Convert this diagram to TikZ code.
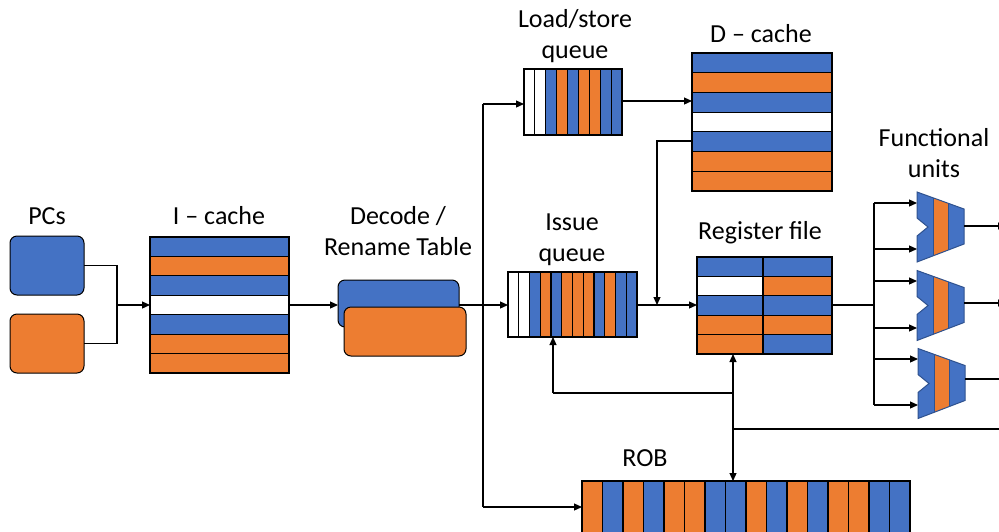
\documentclass[tikz,border=0pt]{standalone}
\usepackage{fontspec}
\setmainfont{Carlito}
\usetikzlibrary{arrows.meta}
\definecolor{cblue}{HTML}{4472C4}
\definecolor{corange}{HTML}{ED7D31}
\definecolor{fuedge}{HTML}{2F528F}
\tikzset{
  lbl/.style={font=\fontsize{26}{31}\selectfont, align=center, inner sep=0pt, anchor=base},
  wire/.style={line width=1.2pt},
  arr/.style={wire, -{Triangle[length=8pt,width=7pt]}},
  cell/.style={draw=black, line width=1.2pt},
  frame/.style={draw=black, line width=1.4pt, inner sep=0pt, outer sep=0pt},
  pcbox/.style={draw=black, line width=1pt, rounded corners=7pt, inner sep=0pt, outer sep=0pt},
}
\newcommand\fupath[2]{(#1,#2-35) -- (#1+47,#2-18) -- (#1+47,#2+17) -- (#1,#2+35) -- (#1,#2+9) -- (#1+11,#2) -- (#1,#2-9) -- cycle}
\newcommand\fudraw[2]{%
  \fill[cblue] \fupath{#1}{#2};
  \begin{scope}
    \clip \fupath{#1}{#2};
    \fill[corange] (#1+16,#2-40) rectangle (#1+31,#2+40);
    \draw[fuedge, line width=0.8pt] (#1+16,#2-40) -- (#1+16,#2+40) (#1+31,#2-40) -- (#1+31,#2+40);
  \end{scope}
  \draw[fuedge, line width=1pt, line join=miter] \fupath{#1}{#2};
}
\begin{document}
\begin{tikzpicture}[x=1pt,y=-1pt]
\useasboundingbox (0,0) rectangle (999,531);

% labels (anchor = baseline of last line)
\node[lbl] (lpc) at (47,224) {PCs};
\node[lbl] (lic) at (219,224) {I – cache};
\node[lbl] (ldec) at (398,255) {Decode /\\Rename Table};
\node[lbl] (llsq) at (575,58) {Load/store\\queue};
\node[lbl] (ldc) at (761,42) {D – cache};
\node[lbl] (liq) at (572,261) {Issue\\queue};
\node[lbl] (lrf) at (760,239) {Register file};
\node[lbl] (lfu) at (934,177) {Functional\\units};
\node[lbl] (lrob) at (645,466) {ROB};

% PCs
\node[pcbox, fill=cblue, minimum width=74pt, minimum height=59pt] (pc1) at (47,265.5) {};
\node[pcbox, fill=corange, minimum width=74pt, minimum height=59pt] (pc2) at (47,343.5) {};

% I-cache
\foreach \c [count=\i from 0] in {cblue,corange,cblue,white,cblue,corange,corange}
  \filldraw[cell, fill=\c] (150,237+\i*19.43) rectangle ++(139,19.43);
\node[frame, minimum width=139pt, minimum height=136pt] (ic) at (219.5,305) {};

% Decode / rename
\node[pcbox, fill=cblue, minimum width=121pt, minimum height=47pt] (dec1) at (398.5,303.5) {};
\node[pcbox, fill=corange, minimum width=122pt, minimum height=49pt] (dec2) at (405,331.5) {};

% Load/store queue
\foreach \c [count=\i from 0] in {white,white,cblue,corange,cblue,corange,corange,cblue,cblue}
  \filldraw[cell, fill=\c] (524+\i*10.89,69) rectangle ++(10.89,66);
\node[frame, minimum width=98pt, minimum height=66pt] (lsq) at (573,102) {};

% D-cache
\foreach \c [count=\i from 0] in {cblue,corange,cblue,white,cblue,corange,corange}
  \filldraw[cell, fill=\c] (692,53+\i*19.71) rectangle ++(140,19.71);
\node[frame, minimum width=140pt, minimum height=138pt] (dc) at (762,122) {};

% Issue queue
\foreach \c [count=\i from 0] in {white,white,cblue,corange,cblue,corange,corange,corange,cblue,corange,cblue,cblue}
  \filldraw[cell, fill=\c] (508+\i*10.75,272) rectangle ++(10.75,65);
\node[frame, minimum width=129pt, minimum height=65pt] (iq) at (572.5,304.5) {};

% Register file
\foreach \a/\b [count=\i from 0] in {cblue/cblue,white/corange,cblue/cblue,corange/corange,corange/cblue}{
  \filldraw[cell, fill=\a] (697,257+\i*19.4) rectangle ++(66,19.4);
  \filldraw[cell, fill=\b] (763,257+\i*19.4) rectangle ++(69,19.4);
}
\node[frame, minimum width=135pt, minimum height=97pt] (rf) at (764.5,305.5) {};

% ROB
\foreach \c [count=\i from 0] in {corange,cblue,corange,cblue,corange,corange,cblue,cblue,corange,cblue,corange,cblue,corange,corange,cblue,cblue}
  \filldraw[cell, fill=\c] (582+\i*20.5,481) rectangle ++(20.5,79);
\node[frame, minimum width=328pt, minimum height=79pt] (rob) at (746,520.5) {};

% Functional units
\fudraw{917}{227}
\fudraw{917}{305.5}
\fudraw{918}{383.5}
\coordinate (in1a) at (917,203);
\coordinate (in1b) at (917,249);
\coordinate (in2a) at (917,281);
\coordinate (in2b) at (917,328);
\coordinate (in3a) at (918,359);
\coordinate (in3b) at (918,405);
\coordinate (out1) at (964,226);
\coordinate (out2) at (964,303);
\coordinate (out3) at (965,379);
\coordinate (end1) at (1006,226);
\coordinate (end2) at (1006,303);
\coordinate (end3) at (1012,379);

% connectors: PCs -> I-cache
\coordinate (pcj) at (117,305);
\draw[wire] (pc1.east) -| (pcj);
\draw[wire] (pc2.east) -| (pcj);
\draw[arr] (pcj) -- (pcj -| ic.west);
% I-cache -> decode
\draw[arr] (ic.east |- pcj) -- (pcj -| dec1.west);
% decode -> issue queue, LSQ, ROB
\coordinate (bt) at (483,104);
\coordinate (bb) at (483,507);
\draw[arr] (pcj -| dec1.east) -- (pcj -| iq.west);
\draw[wire] (bt) -- (bb);
\draw[arr] (bt) -- (bt -| lsq.west);
\draw[arr] (bb) -- (bb -| rob.west);
% LSQ -> D-cache
\coordinate (lsqo) at (622,101);
\draw[arr] (lsqo) -- (lsqo -| dc.west);
% D-cache -> register path
\coordinate (dco) at (692,141);
\coordinate (mj) at (657,305);
\draw[arr] (dco) -| (mj);
% issue queue -> register file
\draw[arr] (iq.east |- mj) -- (mj -| rf.west);
% register file -> functional units
\coordinate (fj) at (874,305);
\draw[wire] (mj -| rf.east) -- (fj);
\draw[wire] (in1a -| fj) -- (in3b -| fj);
\foreach \p in {in1a,in1b,in2a,in2b,in3a,in3b}
  \draw[arr] (\p -| fj) -- (\p);
\draw[arr] (out1) -- (end1);
\draw[arr] (out2) -- (end2);
\draw[arr] (out3) -- (end3);
% result bus
\coordinate (bus) at (733,429);
\coordinate (busR) at (1000,429);
\coordinate (bq) at (733,393);
\coordinate (iqin) at (553,393);
\draw[wire] (busR) -- (bus);
\draw[arr] (bus) -- (bus |- rf.south);
\draw[arr] (bus) -- (bus |- rob.north);
\draw[wire] (bq) -- (iqin);
\draw[arr] (iqin) -- (iqin |- iq.south);
\end{tikzpicture}
\end{document}
